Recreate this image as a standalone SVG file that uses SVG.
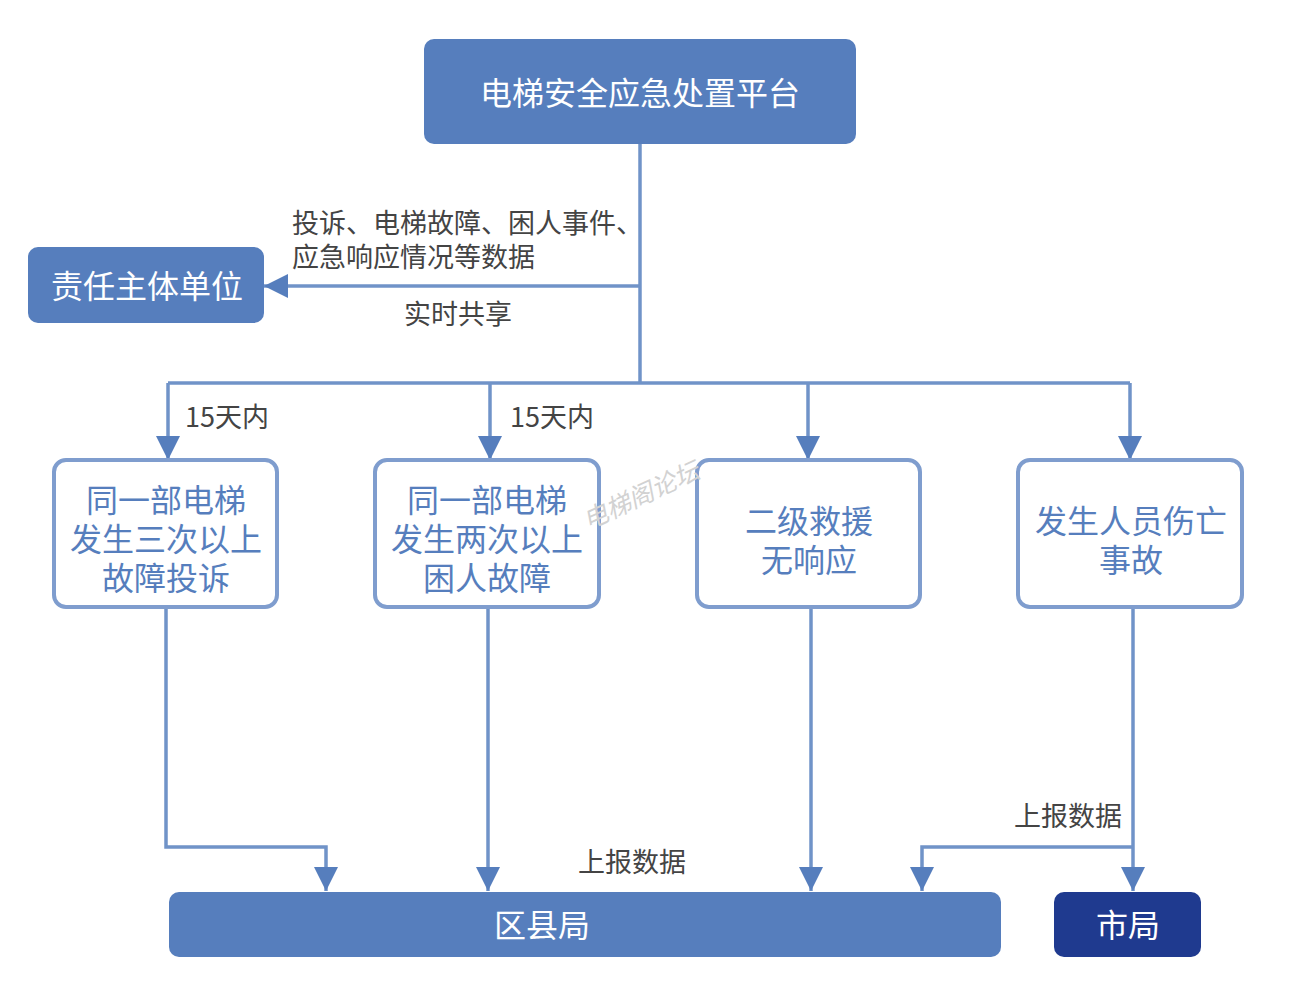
<svg xmlns="http://www.w3.org/2000/svg" width="1298" height="1000" viewBox="0 0 1298 1000">
<style>
.fill{fill:#567EBD}
.dark{fill:#1F3A8F}
.box{fill:#fff;stroke:#7F9DCE;stroke-width:4}
.wt{font-family:"Noto Sans CJK SC","Noto Sans",sans-serif;font-size:32px;fill:#fff;text-anchor:middle;dominant-baseline:central}
.bt{font-family:"Noto Sans CJK SC","Noto Sans",sans-serif;font-size:32px;fill:#567EBD;text-anchor:middle;dominant-baseline:central}
.lt{font-family:"Noto Sans CJK SC","Noto Sans",sans-serif;font-size:27px;fill:#444}
.ln{fill:none;stroke:#7093C8;stroke-width:3.5}
</style>
<defs>
<marker id="ah" markerUnits="userSpaceOnUse" markerWidth="26" markerHeight="26" viewBox="0 0 26 26" refX="24" refY="13" orient="auto">
<path d="M0,1 L24,13 L0,25 Z" fill="#567EBD"/>
</marker>
</defs>
<rect width="1298" height="1000" fill="#fff"/>
<g id="connectors">
<path class="ln" d="M640,144 V383"/>
<path class="ln" d="M640,286 H264" marker-end="url(#ah)"/>
<path class="ln" d="M168,383 H1130"/>
<path class="ln" d="M168,383 V460" marker-end="url(#ah)"/>
<path class="ln" d="M490,383 V460" marker-end="url(#ah)"/>
<path class="ln" d="M808,383 V460" marker-end="url(#ah)"/>
<path class="ln" d="M1130,383 V460" marker-end="url(#ah)"/>
<path class="ln" d="M166,607 V847 H326 V891" marker-end="url(#ah)"/>
<path class="ln" d="M488,607 V891" marker-end="url(#ah)"/>
<path class="ln" d="M811,607 V891" marker-end="url(#ah)"/>
<path class="ln" d="M1133,607 V891" marker-end="url(#ah)"/>
<path class="ln" d="M1133,847 H922 V891" marker-end="url(#ah)"/>
</g>
<g id="labels">
<text class="lt" x="292" y="233">投诉、电梯故障、困人事件、<tspan x="292" y="267">应急响应情况等数据</tspan></text>
<text class="lt" x="458" y="324" text-anchor="middle">实时共享</text>
<text class="lt" x="185" y="427">15天内</text>
<text class="lt" x="510" y="427">15天内</text>
<text class="lt" x="632" y="872" text-anchor="middle">上报数据</text>
<text class="lt" x="1068" y="826" text-anchor="middle">上报数据</text>
</g>
<g id="platform">
<rect class="fill" x="424" y="39" width="432" height="105" rx="10"/>
<text class="wt" x="640" y="91">电梯安全应急处置平台</text>
</g>
<g id="responsible">
<rect class="fill" x="28" y="247" width="236" height="76" rx="10"/>
<text class="wt" x="147" y="284">责任主体单位</text>
</g>
<g id="node1">
<rect class="box" x="54" y="460" width="223" height="147" rx="12"/>
<text class="bt" x="166" y="498">同一部电梯<tspan x="166" y="537">发生三次以上</tspan><tspan x="166" y="576">故障投诉</tspan></text>
</g>
<g id="node2">
<rect class="box" x="375" y="460" width="224" height="147" rx="12"/>
<text class="bt" x="487" y="498">同一部电梯<tspan x="487" y="537">发生两次以上</tspan><tspan x="487" y="576">困人故障</tspan></text>
</g>
<g id="node3">
<rect class="box" x="697" y="460" width="223" height="147" rx="12"/>
<text class="bt" x="809" y="519">二级救援<tspan x="809" y="558">无响应</tspan></text>
</g>
<g id="node4">
<rect class="box" x="1018" y="460" width="224" height="147" rx="12"/>
<text class="bt" x="1131" y="519">发生人员伤亡<tspan x="1131" y="558">事故</tspan></text>
</g>
<g id="district">
<rect class="fill" x="169" y="892" width="832" height="65" rx="10"/>
<text class="wt" x="542" y="923">区县局</text>
</g>
<g id="city">
<rect class="dark" x="1054" y="892" width="147" height="65" rx="10"/>
<text class="wt" x="1128" y="923">市局</text>
</g>
<text x="588" y="530" transform="rotate(-25 588 530)" font-family="'Noto Sans CJK SC',sans-serif" font-size="25" font-style="italic" fill="#d2d2d2">电梯阁论坛</text>
</svg>
